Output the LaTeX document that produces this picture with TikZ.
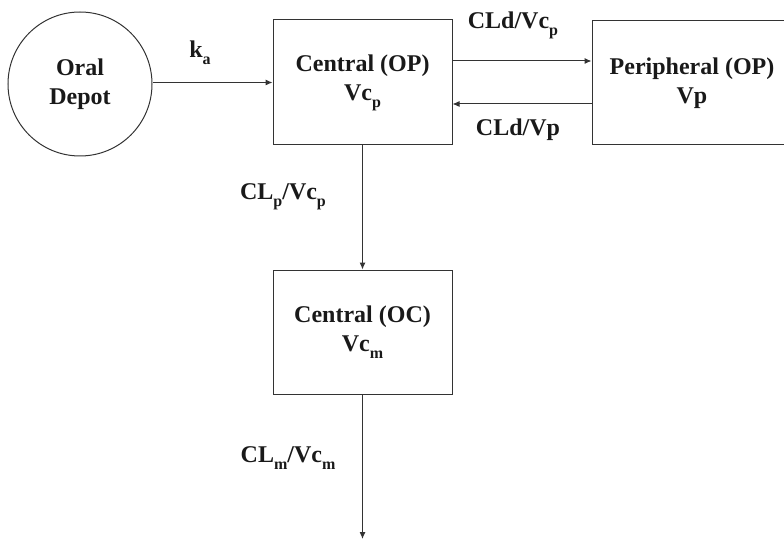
\documentclass[tikz,border=0pt]{standalone}
\usepackage{fontspec}
\setmainfont{Liberation Serif}[BoldFont={Liberation Serif Bold}]
\newfontfamily\tbold{Liberation Serif Bold}
\usetikzlibrary{arrows.meta,calc}
\newcommand{\lsub}[1]{\raisebox{-0.3em}{\fontsize{16}{16}\selectfont #1}}
\begin{document}
\begin{tikzpicture}[x=1pt,y=-1pt,
  every node/.style={font=\tbold\fontsize{24}{29}\selectfont, text=black!90},
  comp/.style={draw=black!80, line width=1pt, rectangle, align=center, inner sep=0pt},
  depot/.style={draw=black!80, line width=1pt, circle, align=center, inner sep=0pt, minimum size=144pt},
  arr/.style={draw=black!80, line width=1pt, -{Latex[length=7pt,width=6pt]}},
  lbl/.style={inner sep=0pt}]
\useasboundingbox (0,0) rectangle (784,540);
\clip (0,0) rectangle (784,540);
\node[depot] (dep) at (80,84) {Oral\\Depot};
\node[comp, minimum width=179pt, minimum height=125pt] (cop) at (362.5,82.5) {Central (OP)\\Vc\lsub{p}};
\node[comp, minimum width=200pt, minimum height=124pt] (per) at (692,83) {Peripheral (OP)\\Vp};
\node[comp, minimum width=179pt, minimum height=124pt] (coc) at (362.5,332) {Central (OC)\\Vc\lsub{m}};
\coordinate (out) at (362.5,539);
\draw[arr] (dep.east |- cop.west) -- (cop.west);
\draw[arr] ([yshift=21.5pt]cop.east) -- ([yshift=21.5pt]cop.east -| per.west);
\draw[arr] ([yshift=-21.5pt]cop.east -| per.west) -- ([yshift=-21.5pt]cop.east);
\draw[arr] (cop.south) -- (coc.north);
\draw[arr] (coc.south) -- (out);
\node[lbl] (ka) at (200,53) {k\lsub{a}};
\node[lbl] (l1) at (513,25) {CLd/Vc\lsub{p}};
\node[lbl] (l2) at (518,130) {CLd/Vp};
\node[lbl] (l3) at (283,197) {CL\lsub{p}/Vc\lsub{p}};
\node[lbl] (l4) at (288,458) {CL\lsub{m}/Vc\lsub{m}};
\end{tikzpicture}
\end{document}
